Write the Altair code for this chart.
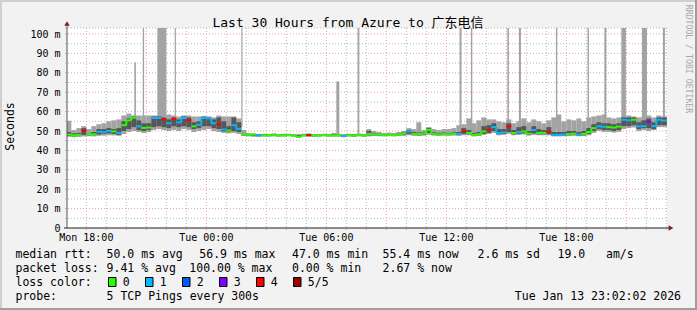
import altair as alt
import pandas as pd

# ---------------- data ----------------
STEP = 0.25                      # hours per bin (15 min), bins start Mon 17:00
X0 = 2.0333 / 60.0               # Mon 17:02:02 in hours since Mon 17:00
X1 = X0 + 30.0                   # Tue 23:02:02
YMAX = 103.1                     # ms at top of plot

median = [
    48.2, 47.8, 48.0, 50.2,  48.4, 48.3, 49.6, 49.4,  50.0, 49.8, 49.0, 53.0,
    55.5, 56.9, 52.4, 51.6,  51.8, 56.7, 56.7, 56.0,  54.0, 56.3, 54.5, 56.7,
    55.5, 52.4, 53.2, 56.7,  56.5, 54.0, 53.5, 50.8,  50.2, 53.0, 51.0, 48.5,
    48.0, 48.2, 47.8, 47.8,  47.8, 48.0, 47.7, 47.8,  47.9, 47.7, 47.0, 47.8,
    47.8, 47.6, 47.7, 47.9,  47.8, 47.7, 47.8, 47.4,  47.8, 47.6, 47.9, 47.7,
    48.5, 48.3, 48.1, 48.0,  48.0, 47.9, 48.1, 48.6,  49.8, 48.5, 48.4, 48.6,
    50.6, 48.6, 48.2, 48.4,  48.3, 48.5, 48.5, 49.8,  49.0, 48.0, 48.3, 49.8,
    50.6, 52.0, 49.0, 49.2,  52.4, 49.0, 49.5, 49.8,  48.6, 50.5, 49.0, 49.0,
    49.5, 48.0, 48.0, 48.1,  48.4, 48.6, 48.2, 48.5,  49.5, 51.5, 52.4, 52.2,
    52.0, 51.8, 52.3, 55.8,  55.5, 55.8, 52.4, 52.5,  54.8, 52.5, 55.8, 55.4,
    55.4,
]
loss = [
    0, 0, 0, 4,  0, 0, 1, 1,  1, 0, 1, 0,
    0, 0, 1, 0,  0, 1, 1, 4,  1, 4, 1, 1,
    4, 0, 1, 1,  1, 1, 4, 1,  0, 1, 1, 0,
    0, 0, 1, 0,  0, 0, 0, 0,  0, 0, 0, 0,
    4, 0, 0, 0,  0, 0, 0, 1,  0, 0, 0, 0,
    0, 0, 0, 0,  0, 0, 0, 0,  1, 0, 0, 0,
    0, 0, 0, 0,  0, 0, 1, 4,  0, 0, 0, 0,
    4, 1, 1, 1,  4, 0, 1, 0,  0, 1, 0, 0,
    4, 1, 1, 1,  0, 0, 1, 0,  0, 0, 1, 1,
    0, 0, 0, 1,  1, 0, 1, 1,  3, 1, 1, 1,
    1,
]
light_lo = [
    47.0, 46.8, 46.9, 47.2,  47.3, 47.2, 47.5, 47.6,  47.8, 47.7, 47.5, 48.5,
    49.5, 50.0, 49.5, 49.0,  49.5, 50.5, 51.0, 50.5,  50.0, 50.5, 50.0, 51.0,
    50.5, 49.5, 50.0, 50.5,  51.0, 50.0, 49.5, 49.0,  48.8, 49.0, 48.5, 47.5,
    47.2, 47.0, 46.9, 47.1,  47.0, 47.2, 47.0, 47.1,  47.2, 47.0, 46.5, 47.1,
    47.1, 46.9, 47.0, 47.2,  47.0, 47.1, 47.0, 46.8,  47.1, 46.9, 47.2, 47.0,
    47.2, 47.4, 47.3, 47.2,  47.3, 47.2, 47.4, 47.5,  47.8, 47.5, 47.4, 47.6,
    48.0, 47.6, 47.5, 47.6,  47.5, 47.6, 47.5, 47.8,  47.8, 47.2, 47.4, 48.0,
    48.5, 49.0, 47.8, 48.0,  48.5, 47.8, 48.0, 48.2,  47.6, 48.0, 47.8, 47.8,
    47.8, 47.2, 47.2, 47.3,  47.4, 47.5, 47.3, 47.4,  47.8, 49.0, 50.0, 49.5,
    49.5, 49.2, 49.5, 51.0,  51.5, 51.8, 50.0, 50.5,  50.0, 50.5, 52.0, 52.0,
    52.0,
]
light_hi = [
    55.3, 50.5, 51.5, 52.5,  51.0, 52.5, 53.5, 54.0,  55.0, 55.5, 56.0, 58.0,
    59.0, 58.0, 58.0, 58.0,  58.0, 58.0, 58.0, 58.0,  58.5, 58.0, 57.5, 58.0,
    58.0, 57.5, 57.5, 57.5,  57.5, 57.0, 58.0, 57.5,  57.5, 57.5, 56.5, 50.5,
    49.0, 48.8, 48.5, 48.6,  48.5, 48.8, 48.4, 48.6,  48.6, 48.4, 48.3, 48.6,
    48.8, 48.5, 48.4, 48.6,  48.5, 49.0, 48.6, 48.4,  48.6, 48.5, 48.7, 48.5,
    51.0, 50.0, 49.5, 49.0,  49.2, 49.0, 49.5, 50.0,  51.5, 51.0, 54.5, 50.5,
    52.0, 51.0, 50.5, 51.0,  51.0, 51.5, 53.0, 53.5,  56.5, 54.0, 55.5, 57.0,
    56.0, 56.0, 55.0, 54.5,  56.0, 54.0, 55.0, 56.5,  54.5, 56.0, 55.0, 54.0,
    55.5, 57.0, 58.5, 55.0,  56.0, 55.5, 56.5, 55.0,  57.0, 57.5, 58.0, 58.5,
    57.0, 56.5, 57.0, 58.0,  58.0, 57.5, 57.0, 57.5,  58.0, 57.0, 58.0, 57.5,
    57.5,
]
dark_lo = [
    47.5, 47.3, 47.5, 48.0,  47.8, 47.8, 48.2, 48.5,  48.8, 48.5, 48.0, 50.0,
    51.0, 52.0, 50.5, 50.0,  50.5, 52.0, 52.5, 52.0,  51.5, 52.5, 52.0, 52.5,
    52.0, 51.0, 51.5, 52.5,  52.5, 51.5, 51.0, 49.8,  49.5, 50.0, 49.5, 47.8,
    47.5, 47.5, 47.4, 47.5,  47.5, 47.6, 47.4, 47.5,  47.6, 47.4, 46.8, 47.5,
    47.5, 47.3, 47.4, 47.6,  47.5, 47.4, 47.5, 47.1,  47.5, 47.3, 47.6, 47.4,
    47.8, 47.8, 47.6, 47.6,  47.6, 47.6, 47.7, 47.9,  48.5, 47.9, 47.8, 47.9,
    49.0, 48.0, 47.8, 47.9,  47.9, 48.0, 47.9, 48.5,  48.3, 47.6, 47.8, 48.5,
    49.0, 50.0, 48.3, 48.5,  49.5, 48.3, 48.6, 48.8,  48.0, 48.8, 48.3, 48.3,
    48.3, 47.6, 47.6, 47.7,  47.8, 48.0, 47.7, 47.8,  48.5, 50.0, 51.0, 50.5,
    50.5, 50.0, 50.5, 52.5,  52.5, 53.0, 51.0, 51.5,  51.5, 51.0, 53.0, 53.0,
    53.0,
]
dark_hi = [
    49.5, 48.8, 49.0, 51.5,  49.0, 49.5, 51.0, 51.0,  51.5, 51.0, 51.5, 55.0,
    56.5, 57.5, 55.5, 54.0,  54.0, 57.5, 57.5, 57.0,  56.0, 57.0, 56.0, 57.5,
    57.0, 54.5, 55.0, 57.5,  57.0, 56.0, 57.0, 55.0,  52.5, 57.0, 54.5, 49.0,
    48.3, 48.3, 48.2, 48.2,  48.2, 48.3, 48.1, 48.2,  48.3, 48.1, 48.0, 48.2,
    48.4, 48.0, 48.1, 48.3,  48.1, 48.2, 48.1, 48.0,  48.2, 48.1, 48.3, 48.1,
    50.0, 49.0, 48.6, 48.5,  48.5, 48.4, 48.6, 49.2,  50.5, 49.5, 49.2, 49.3,
    51.5, 49.5, 49.0, 49.2,  49.0, 49.3, 49.5, 51.5,  50.5, 49.0, 49.5, 52.5,
    53.0, 54.0, 51.0, 51.0,  54.0, 50.5, 52.0, 52.5,  50.0, 52.5, 51.0, 50.5,
    52.0, 49.5, 49.5, 49.5,  50.0, 50.0, 49.5, 50.0,  51.5, 53.5, 54.5, 54.0,
    54.0, 53.5, 54.0, 57.0,  57.0, 57.0, 54.5, 55.5,  56.5, 54.5, 57.0, 57.0,
    57.0,
]
# tall smoke spikes (hours since Mon 17:00)
spike_start = [3.40, 3.82, 4.55, 5.42, 8.75, 13.50, 14.56, 19.66, 20.23,
               22.05, 22.63, 24.48, 26.06, 26.90, 27.75, 28.78, 29.83]
spike_end = [3.48, 3.89, 5.00, 5.48, 8.81, 13.65, 14.65, 19.76, 20.30,
             22.13, 22.73, 24.55, 26.13, 27.00, 27.98, 29.03, 29.93]
spike_base = [53.0, 55.0, 55.0, 55.0, 52.0, 48.5, 48.5, 50.0, 50.0,
              50.0, 50.0, 52.0, 52.0, 52.0, 52.0, 53.0, 53.0]
spike_top = [85.3, 104.0, 104.0, 104.0, 104.0, 75.6, 104.0, 104.0, 104.0,
             104.0, 104.0, 104.0, 104.0, 104.0, 104.0, 104.0, 104.0]

loss_keys = ["0", "1", "2", "3", "4", "5"]
loss_names = ["0", "1", "2", "3", "4", "5/5"]
loss_colors = ["#26ff00", "#00b8ff", "#0059ff", "#7e00ff", "#ff0000", "#a00000"]

x_tick_hours = [1, 7, 13, 19, 25]
x_tick_labels = ["Mon 18:00", "Tue 00:00", "Tue 06:00", "Tue 12:00", "Tue 18:00"]
y_tick_values = [0, 10, 20, 30, 40, 50, 60, 70, 80, 90, 100]
y_tick_labels = ["0\u00a0\u00a0", "10 m", "20 m", "30 m", "40 m", "50 m",
                 "60 m", "70 m", "80 m", "90 m", "100 m"]

# ---------------- layout ----------------
W, H = 600, 200
OX, OY = 67, 28
MONO = "DejaVu Sans Mono"

n = len(median)
t0 = [i * STEP for i in range(n)]
df = pd.DataFrame({
    "t0": t0, "t1": [t + STEP for t in t0], "med": median,
    "loss": [str(v) for v in loss],
    "llo": light_lo, "lhi": light_hi, "dlo": dark_lo, "dhi": dark_hi,
})
conn = pd.DataFrame({
    "t": [t0[i + 1] for i in range(n - 1) if loss[i] == loss[i + 1]],
    "a": [median[i] for i in range(n - 1) if loss[i] == loss[i + 1]],
    "b": [median[i + 1] for i in range(n - 1) if loss[i] == loss[i + 1]],
    "loss": [str(loss[i]) for i in range(n - 1) if loss[i] == loss[i + 1]],
})
spikes = pd.DataFrame({"s0": spike_start, "s1": spike_end,
                       "lo": spike_base, "hi": spike_top})

xs = alt.Scale(domain=[X0, X1], nice=False, zero=False)
ys = alt.Scale(domain=[0, YMAX], nice=False, zero=False)
cs = alt.Scale(domain=loss_keys, range=loss_colors)

hours = list(range(1, 31))
vgrid = pd.DataFrame({"h": hours, "major": [(h - 1) % 3 == 0 for h in hours]})
hminor = pd.DataFrame({"v": [5, 15, 25, 35, 45, 55, 65, 75, 85, 95, YMAX]})
hmajor = pd.DataFrame({"v": [10, 20, 30, 40, 50, 60, 70, 80, 90, 100]})

GRID_C = "#b8b8b8"
MGRID_C = "#eb9f9f"

layers = []
layers.append(alt.Chart(vgrid).transform_filter("!datum.major").mark_rule(
    color=GRID_C, strokeDash=[1, 2], strokeWidth=1).encode(
    x=alt.X("h:Q", scale=xs, axis=None), y=alt.value(0), y2=alt.value(H + 2)))
layers.append(alt.Chart(hminor).mark_rule(
    color=GRID_C, strokeDash=[1, 2], strokeWidth=1).encode(
    y=alt.Y("v:Q", scale=ys, axis=None), x=alt.value(-2), x2=alt.value(W)))
layers.append(alt.Chart(vgrid).transform_filter("datum.major").mark_rule(
    color=MGRID_C, strokeDash=[1, 2], strokeWidth=1).encode(
    x=alt.X("h:Q", scale=xs, axis=None), y=alt.value(0), y2=alt.value(H + 2)))
layers.append(alt.Chart(hmajor).mark_rule(
    color=MGRID_C, strokeDash=[1, 2], strokeWidth=1).encode(
    y=alt.Y("v:Q", scale=ys, axis=None), x=alt.value(-2), x2=alt.value(W)))

base = alt.Chart(df)
layers.append(base.mark_rect(color="#a3a3a3", clip=True).encode(
    x=alt.X("t0:Q", scale=xs, axis=None), x2="t1",
    y=alt.Y("llo:Q", scale=ys, axis=None), y2="lhi"))
layers.append(alt.Chart(spikes).mark_rect(color="#a3a3a3", clip=True).encode(
    x=alt.X("s0:Q", scale=xs, axis=None), x2="s1",
    y=alt.Y("lo:Q", scale=ys, axis=None), y2="hi"))
layers.append(base.mark_rect(color="#575757", clip=True).encode(
    x=alt.X("t0:Q", scale=xs, axis=None), x2="t1",
    y=alt.Y("dlo:Q", scale=ys, axis=None), y2="dhi"))
layers.append(alt.Chart(conn).mark_rule(strokeWidth=2, clip=True).encode(
    x=alt.X("t:Q", scale=xs, axis=None),
    y=alt.Y("a:Q", scale=ys, axis=None), y2="b",
    color=alt.Color("loss:N", scale=cs, legend=None)))
layers.append(base.mark_rule(strokeWidth=2, strokeCap="butt", clip=True).encode(
    x=alt.X("t0:Q", scale=xs, axis=None), x2="t1",
    y=alt.Y("med:Q", scale=ys, axis=None),
    color=alt.Color("loss:N", scale=cs, legend=None)))

one = pd.DataFrame({"a": [0]})


def rule(x1, y1, x2, y2, color, w=1):
    return alt.Chart(one).mark_rule(color=color, strokeWidth=w).encode(
        x=alt.value(x1 - OX), x2=alt.value(x2 - OX),
        y=alt.value(y1 - OY), y2=alt.value(y2 - OY))


def box(x, y, w, h, fill, stroke=None):
    kw = {"fill": fill}
    if stroke:
        kw.update(stroke=stroke, strokeWidth=1)
    return alt.Chart(one).mark_rect(**kw).encode(
        x=alt.value(x - OX), x2=alt.value(x + w - OX),
        y=alt.value(y - OY), y2=alt.value(y + h - OY))


def txt(s, x, y, size=11.5, align="left", baseline="alphabetic", angle=0,
        color="#000000", font=MONO):
    return alt.Chart(one).mark_text(
        text=s.replace(" ", "\u00a0"), align=align, baseline=baseline,
        angle=angle, fontSize=size, font=font, color=color).encode(
        x=alt.value(x - OX), y=alt.value(y - OY))


# axes
layers.append(rule(67, 228, 67, 25, "#555555"))
layers.append(rule(64, 228, 669, 228, "#1f1f1f"))
layers.append(alt.Chart(one).mark_point(shape="triangle-up", size=30, filled=True,
                                        color="#801f1f", opacity=1).encode(
    x=alt.value(0), y=alt.value(23.5 - OY)))
layers.append(alt.Chart(one).mark_point(shape="triangle-right", size=30, filled=True,
                                        color="#801f1f", opacity=1).encode(
    x=alt.value(671 - OX), y=alt.value(0 + H)))

# tick labels
xt = pd.DataFrame({"h": x_tick_hours, "lab": x_tick_labels})
layers.append(alt.Chart(xt).mark_text(font=MONO, fontSize=10, align="center",
                                      baseline="alphabetic", color="#000000").encode(
    x=alt.X("h:Q", scale=xs, axis=None), y=alt.value(241 - OY), text="lab:N"))
yt = pd.DataFrame({"v": y_tick_values, "lab": y_tick_labels})
layers.append(alt.Chart(yt).mark_text(font=MONO, fontSize=10, align="right",
                                      baseline="alphabetic", dy=3.5,
                                      color="#000000").encode(
    y=alt.Y("v:Q", scale=ys, axis=None), x=alt.value(60.5 - OX), text="lab:N"))

# titles
layers.append(txt("Last 30 Hours from Azure to 广东电信", 348, 26.5, size=13,
                  align="center", font=MONO + ", Noto Sans CJK SC"))
layers.append(txt("Seconds", 10.5, 126.5, size=11.5, align="center",
                  baseline="middle", angle=270))
layers.append(txt("RRDTOOL / TOBI OETIKER", 688, 59, size=8.2, align="center",
                  baseline="middle", angle=90, color="#a8a8a8"))

# legend
y1, y2, y3, y4 = 258.3, 272.3, 286.2, 300.0
for s, x in [("median rtt:", 15.5), ("50.0 ms avg", 106.6), ("56.9 ms max", 199.3),
             ("47.0 ms min", 292.0), ("55.4 ms now", 382.6), ("2.6 ms sd", 477.6),
             ("19.0", 557.6), ("am/s", 606.0)]:
    layers.append(txt(s, x, y1))
for s, x in [("packet loss:", 15.5), ("9.41 % avg", 106.6), ("100.00 % max", 189.3),
             ("0.00 % min", 292.0), ("2.67 % now", 382.6)]:
    layers.append(txt(s, x, y2))
layers.append(txt("loss color:", 15.5, y3))
for i, (name, col) in enumerate(zip(loss_names, loss_colors)):
    bx = 108.5 + 37 * i
    layers.append(box(bx, 277.5, 7.5, 9, col, stroke="#000000"))
    layers.append(txt(name, bx + 14.3, y3))
layers.append(txt("probe:", 15.5, y4))
layers.append(txt("5 TCP Pings every 300s", 106.6, y4))
layers.append(txt("Tue Jan 13 23:02:02 2026", 681, y4, align="right"))

# frame shading
layers.append(box(0, 0, 697, 2, "#cfcfcf"))
layers.append(box(0, 0, 2, 310, "#cfcfcf"))
layers.append(box(0, 308, 697, 2, "#9e9e9e"))
layers.append(box(695, 0, 2, 310, "#9e9e9e"))

chart = alt.layer(*layers).properties(
    width=W, height=H,
    padding={"left": OX, "top": OY, "right": 697 - OX - W, "bottom": 310 - OY - H},
    autosize=alt.AutoSizeParams(type="none"),
    background="#f2f2f2",
).configure_view(fill="#ffffff", stroke=None)

chart.save("out.html", embed_options={"renderer": "svg", "actions": False})
